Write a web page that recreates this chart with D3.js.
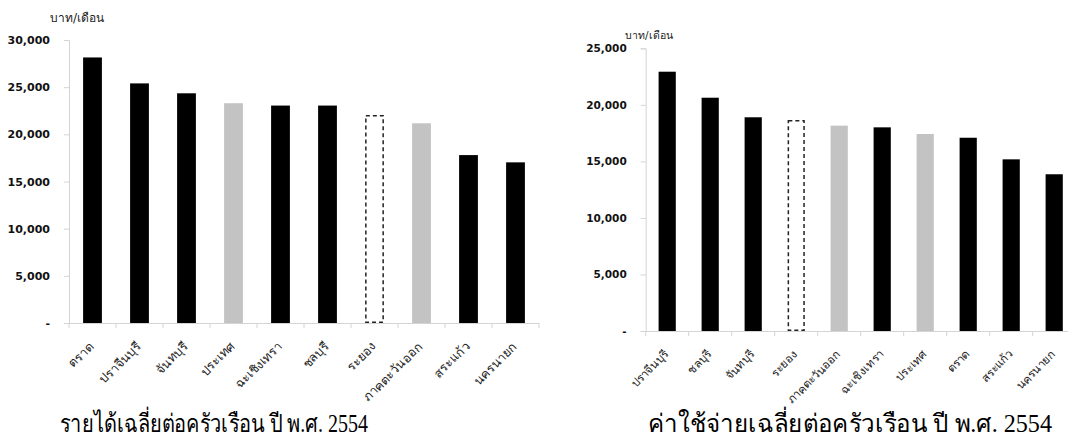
<!DOCTYPE html>
<html><head><meta charset="utf-8">
<script src="https://cdn.jsdelivr.net/npm/d3@7"></script>
<style>
body{margin:0;background:#fff;}
svg{display:block;}
</style></head>
<body>
<svg id="c" width="1068" height="443"></svg>
<script>
// ---- data ----
const incomeCategories = ["ตราด","ปราจีนบุรี","จันทบุรี","ประเทศ","ฉะเชิงเทรา","ชลบุรี","ระยอง","ภาคตะวันออก","สระแก้ว","นครนายก"];
const incomeValues = [28150, 25400, 24350, 23300, 23050, 23050, 21980, 21170, 17800, 17030];
const incomeTicks = [0, 5000, 10000, 15000, 20000, 25000, 30000];

const expenseCategories = ["ปราจีนบุรี","ชลบุรี","จันทบุรี","ระยอง","ภาคตะวันออก","ฉะเชิงเทรา","ประเทศ","ตราด","สระแก้ว","นครนายก"];
const expenseValues = [22930, 20630, 18900, 18600, 18160, 18010, 17420, 17090, 15180, 13860];
const expenseTicks = [0, 5000, 10000, 15000, 20000, 25000];

const unitLabel = "บาท/เดือน";
const incomeTitle = "รายได้เฉลี่ยต่อครัวเรือน ปี พ.ศ. 2554";
const expenseTitle = "ค่าใช้จ่ายเฉลี่ยต่อครัวเรือน ปี พ.ศ. 2554";

const grayCats = ["ประเทศ","ภาคตะวันออก"];
const dashedCats = ["ระยอง"];

const svg = d3.select("#c");
const fmt = v => v === 0 ? "-" : d3.format(",")(v);

function drawChart(cfg){
  const g = svg.append("g");
  const x = d3.scaleBand().domain(cfg.cats).range([cfg.x0, cfg.x1]).paddingInner(0.6).paddingOuter(0.3);
  const y = d3.scaleLinear().domain([0, cfg.max]).range([cfg.y0, cfg.y1]);

  // y axis
  const ya = g.append("g").attr("transform", `translate(${cfg.x0},0)`)
    .call(d3.axisLeft(y).tickValues(cfg.ticks).tickFormat(fmt).tickSize(5).tickPadding(14));
  ya.select(".domain").attr("stroke", "#d4d4d4");
  ya.selectAll(".tick line").attr("stroke", "#d4d4d4");
  ya.selectAll(".tick text").attr("font-family", "DejaVu Sans, sans-serif").attr("font-weight", "bold")
    .attr("font-size", cfg.tickFont).attr("fill", "#111");

  // bars
  g.selectAll("rect.bar").data(cfg.cats).enter().append("rect")
    .attr("class", "bar")
    .attr("x", d => x(d) + (dashedCats.includes(d) ? 0.75 : 0))
    .attr("width", d => x.bandwidth() - (dashedCats.includes(d) ? 1.5 : 0))
    .attr("y", (d, i) => y(cfg.vals[i]))
    .attr("height", (d, i) => y(0) - y(cfg.vals[i]) - (dashedCats.includes(d) ? 0.75 : 0))
    .attr("fill", d => dashedCats.includes(d) ? "#fff" : (grayCats.includes(d) ? "#c3c3c3" : "#000"))
    .attr("stroke", d => dashedCats.includes(d) ? "#222" : "none")
    .attr("stroke-width", 1.5)
    .attr("stroke-dasharray", d => dashedCats.includes(d) ? "4,3" : null);

  // x axis line + ticks at band boundaries
  const step = x.step();
  g.append("line").attr("x1", cfg.x0).attr("x2", cfg.x1).attr("y1", cfg.y0 + 0.5).attr("y2", cfg.y0 + 0.5)
    .attr("stroke", "#d4d4d4");
  g.selectAll("line.xt").data(d3.range(cfg.cats.length + 1)).enter().append("line")
    .attr("class", "xt")
    .attr("x1", i => cfg.x0 + i * step).attr("x2", i => cfg.x0 + i * step)
    .attr("y1", cfg.y0).attr("y2", cfg.y0 + 5).attr("stroke", "#d4d4d4");

  // category labels
  g.selectAll("text.cat").data(cfg.cats).enter().append("text")
    .attr("class", "cat")
    .attr("transform", d => `translate(${x(d) + x.bandwidth() / 2 + 2},${cfg.y0 + 24}) rotate(-45)`)
    .attr("text-anchor", "end")
    .attr("font-family", "DejaVu Sans, sans-serif")
    .attr("font-size", cfg.catFont)
    .attr("fill", "#222")
    .text(d => d);

  // unit label
  g.append("text").attr("x", cfg.unitX).attr("y", cfg.unitY)
    .attr("font-family", "DejaVu Sans, sans-serif").attr("font-size", cfg.unitFont).attr("fill", "#222")
    .text(unitLabel);

  // title
  g.append("text").attr("x", cfg.titleX).attr("y", 432)
    .attr("text-anchor", "middle")
    .attr("font-family", "Liberation Serif, DejaVu Serif, serif")
    .attr("font-size", 25).attr("fill", "#000")
    .attr("textLength", cfg.titleLen).attr("lengthAdjust", "spacingAndGlyphs")
    .text(cfg.title);
}

drawChart({cats: incomeCategories, vals: incomeValues, ticks: incomeTicks, max: 30000,
  x0: 69, x1: 539, y0: 323, y1: 40, tickFont: 11, catFont: 12.5, unitX: 50, unitY: 22, unitFont: 12,
  title: incomeTitle, titleX: 214, titleLen: 308});
drawChart({cats: expenseCategories, vals: expenseValues, ticks: expenseTicks, max: 25000,
  x0: 645.7, x1: 1075.7, y0: 331, y1: 48.3, tickFont: 10.5, catFont: 11.5, unitX: 625, unitY: 39, unitFont: 10.5,
  title: expenseTitle, titleX: 850, titleLen: 404});
</script>
</body></html>
